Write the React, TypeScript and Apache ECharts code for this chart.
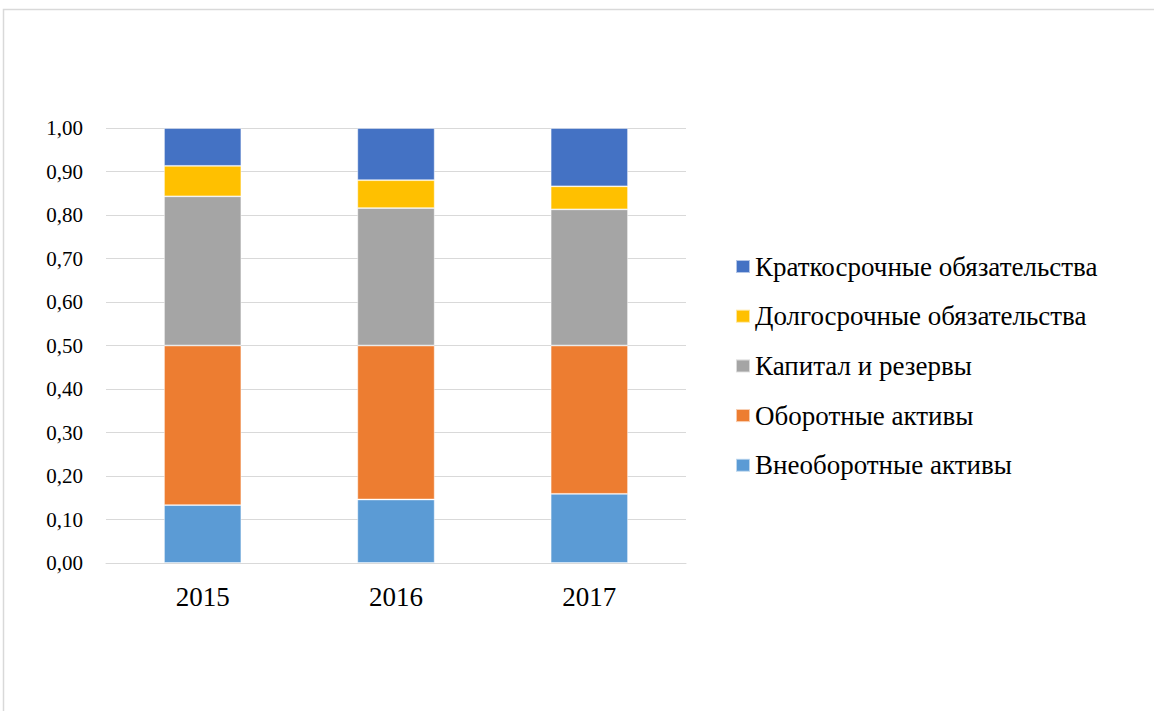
import React, { useEffect, useRef } from "react";
import * as echarts from "echarts";

const years = ["2015", "2016", "2017"];
const seriesNames = [
  "Внеоборотные активы",
  "Оборотные активы",
  "Капитал и резервы",
  "Долгосрочные обязательства",
  "Краткосрочные обязательства",
];
const nonCurrentAssets = [0.133, 0.146, 0.159];
const currentAssets = [0.367, 0.354, 0.341];
const equity = [0.343, 0.316, 0.313];
const longTermLiabilities = [0.07, 0.064, 0.053];
const shortTermLiabilities = [0.087, 0.12, 0.134];
const colors = ["#5b9bd5", "#ed7d31", "#a5a5a5", "#ffc000", "#4472c4"];
const legendOrder = [
  "Краткосрочные обязательства",
  "Долгосрочные обязательства",
  "Капитал и резервы",
  "Оборотные активы",
  "Внеоборотные активы",
];

const FONT = '"Liberation Serif", "Times New Roman", Times, serif';

export default function App() {
  const ref = useRef<HTMLDivElement>(null);
  useEffect(() => {
    if (!ref.current) return;
    const chart = echarts.init(ref.current, null, { renderer: "svg" });
    const values = [nonCurrentAssets, currentAssets, equity, longTermLiabilities, shortTermLiabilities];
    chart.setOption({
      animation: false,
      backgroundColor: "#ffffff",
      textStyle: { fontFamily: FONT },
      graphic: [
        {
          type: "rect",
          shape: { x: 3.5, y: 9.5, width: 1300, height: 900 },
          style: { fill: "none", stroke: "#d9d9d9", lineWidth: 1.5 },
          silent: true,
        },
      ],
      grid: { left: 106, right: 468, top: 128, bottom: 148, containLabel: false },
      legend: {
        data: legendOrder,
        orient: "vertical",
        left: 735,
        top: 253,
        padding: 0,
        itemWidth: 14,
        itemHeight: 13,
        itemGap: 22.7,
        icon: "rect",
        textStyle: { fontFamily: FONT, fontSize: 27, fontWeight: "normal", color: "#000", lineHeight: 27 },
      },
      xAxis: {
        type: "category",
        data: years,
        axisLine: { show: true, lineStyle: { color: "#d9d9d9", width: 1 } },
        axisTick: { show: false },
        axisLabel: { fontFamily: FONT, fontSize: 27, color: "#000", margin: 20 },
      },
      yAxis: {
        type: "value",
        min: 0,
        max: 1,
        interval: 0.1,
        axisLine: { show: false },
        axisTick: { show: false },
        splitLine: { lineStyle: { color: "#d9d9d9", width: 1 } },
        axisLabel: {
          fontFamily: FONT,
          fontSize: 21,
          color: "#000",
          margin: 23,
          formatter: (v: number) => v.toFixed(2).replace(".", ","),
        },
      },
      series: seriesNames.map((name, i) => ({
        name,
        type: "bar",
        stack: "total",
        barCategoryGap: "60%",
        data: values[i],
        itemStyle: { color: colors[i], borderColor: "rgba(255,255,255,0.6)", borderWidth: 0.8 },
      })),
    });
    return () => chart.dispose();
  }, []);
  return (
    <div
      ref={ref}
      style={{ position: "fixed", left: 0, top: 0, width: 1154, height: 711, fontFamily: FONT }}
    />
  );
}
